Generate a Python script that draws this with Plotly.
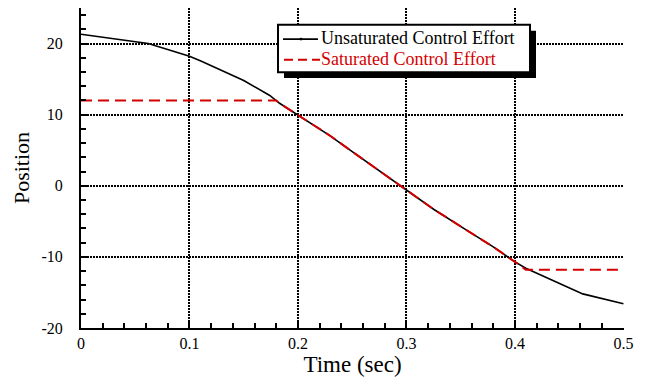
import plotly.graph_objects as go

# Unsaturated control effort (black)
t_unsat = [0, 0.062, 0.1, 0.111, 0.15, 0.174, 0.183, 0.2, 0.229, 0.25, 0.275, 0.3,
           0.325, 0.355, 0.38, 0.4, 0.41, 0.4625, 0.5]
v_unsat = [21.3, 20.0, 18.2, 17.5, 14.8, 12.7, 11.6, 9.9, 7.1, 4.8, 2.1, -0.7,
           -3.3, -6.2, -8.6, -10.7, -11.6, -15.2, -16.6]

# Saturated control effort (red dashed)
t_sat = [0, 0.18, 0.183, 0.2, 0.229, 0.25, 0.275, 0.3, 0.325, 0.355, 0.38, 0.4, 0.41, 0.5]
v_sat = [12.0, 12.0, 11.6, 9.9, 7.1, 4.8, 2.1, -0.7, -3.3, -6.2, -8.6, -10.7, -11.8, -11.8]

series_names = ["Unsaturated Control Effort", "Saturated Control Effort"]

x_ticks = [0, 0.1, 0.2, 0.3, 0.4, 0.5]
x_labels = ["0", "0.1", "0.2", "0.3", "0.4", "0.5"]
y_ticks = [-20, -10, 0, 10, 20]
y_labels = ["-20", "-10", "0", "10", "20"]

RED = "#d40000"
FONT = "Liberation Serif"

fig = go.Figure()
fig.add_trace(go.Scatter(x=t_unsat, y=v_unsat, mode="lines",
                         line=dict(color="black", width=1.6),
                         name=series_names[0], showlegend=False))
fig.add_trace(go.Scatter(x=t_sat, y=v_sat, mode="lines",
                         line=dict(color=RED, width=2, dash="11px,6px"),
                         name=series_names[1], showlegend=False))

# plot-area geometry in pixels, used to place the hand-drawn legend box
L, T = 81, 8
W, H = 543, 324
def px(xp):
    return (xp - L) / W
def py(yp):
    return (T + H - yp) / H

bx0, by0, bx1, by1 = 278, 25, 530, 73
row1, row2 = 38.5, 59.5
sh = 6
shapes = [
    dict(type="rect", xref="paper", yref="paper",
         x0=px(bx0 + sh), x1=px(bx1 + sh), y0=py(by1 + sh), y1=py(by0 + sh),
         fillcolor="black", line=dict(width=0), layer="above"),
    dict(type="rect", xref="paper", yref="paper",
         x0=px(bx0), x1=px(bx1), y0=py(by1), y1=py(by0),
         fillcolor="white", line=dict(color="black", width=2), layer="above"),
    dict(type="line", xref="paper", yref="paper",
         x0=px(283), x1=px(318), y0=py(row1 + 1), y1=py(row1 + 1),
         line=dict(color="black", width=1.6), layer="above"),
    dict(type="circle", xref="paper", yref="paper",
         x0=px(299.5), x1=px(302.5), y0=py(row1 + 2.5), y1=py(row1 - 0.5),
         fillcolor="black", line=dict(color="black", width=0), layer="above"),
    dict(type="line", xref="paper", yref="paper",
         x0=px(284), x1=px(320), y0=py(row2 + 1), y1=py(row2 + 1),
         line=dict(color=RED, width=2, dash="9px,5px"), layer="above"),
]
annotations = [
    dict(text=series_names[0], xref="paper", yref="paper", x=px(320), y=py(row1),
         xanchor="left", yanchor="middle", showarrow=False, borderpad=0,
         font=dict(family=FONT, size=18, color="black")),
    dict(text=series_names[1], xref="paper", yref="paper", x=px(320), y=py(row2),
         xanchor="left", yanchor="middle", showarrow=False, borderpad=0,
         font=dict(family=FONT, size=18, color=RED)),
]

fig.update_layout(
    width=645, height=379,
    margin=dict(l=L, r=645 - L - W, t=T, b=379 - T - H),
    paper_bgcolor="white", plot_bgcolor="white",
    font=dict(family=FONT, size=16, color="black"),
    showlegend=False,
    shapes=shapes,
    annotations=annotations,
    xaxis=dict(range=[0, 0.5005], tickvals=x_ticks, ticktext=x_labels,
               showline=True, linecolor="black", linewidth=2,
               ticks="inside", ticklen=6, tickcolor="black", tickwidth=1.5,
               minor=dict(dtick=0.02, ticks="inside", ticklen=5, tickcolor="black", tickwidth=1.5,
                          showgrid=False),
               showgrid=True, gridcolor="black", gridwidth=2, griddash="2px,1px",
               zeroline=False,
               title=dict(text="Time (sec)", font=dict(size=23), standoff=3),
               tickfont=dict(size=16)),
    yaxis=dict(range=[-20, 25], tickvals=y_ticks, ticktext=y_labels,
               showline=True, linecolor="black", linewidth=2,
               ticks="inside", ticklen=6, tickcolor="black", tickwidth=1.5,
               minor=dict(dtick=2, ticks="inside", ticklen=5, tickcolor="black", tickwidth=1.5,
                          showgrid=False),
               showgrid=True, gridcolor="black", gridwidth=2, griddash="2px,1px",
               zeroline=False, ticklabelstandoff=13,
               title=dict(text="Position", font=dict(size=22), standoff=6),
               tickfont=dict(size=16)),
)

fig.write_html("out.html")
